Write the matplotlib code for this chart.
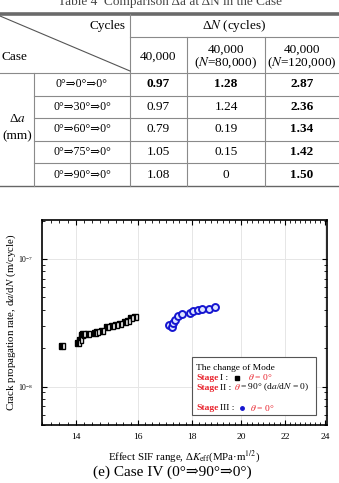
import matplotlib
matplotlib.use("Agg")
import matplotlib.pyplot as plt
from matplotlib.ticker import FixedLocator, FixedFormatter, NullFormatter, LogLocator
from matplotlib.patches import Rectangle

plt.rcParams["mathtext.fontset"] = "stix"

# ---------------- data ----------------
cases = ["0°⇒0°⇒0°", "0°⇒30°⇒0°", "0°⇒60°⇒0°", "0°⇒75°⇒0°", "0°⇒90°⇒0°"]
col_40k = ["0.97", "0.97", "0.79", "1.05", "1.08"]
col_80k = ["1.28", "1.24", "0.19", "0.15", "0"]
col_120k = ["2.87", "2.36", "1.34", "1.42", "1.50"]

stage1_dK = [13.58, 14.06, 14.10, 14.17, 14.21, 14.37, 14.57, 14.66, 14.80,
             14.96, 15.13, 15.26, 15.40, 15.55, 15.67, 15.77, 15.91]
stage1_rate = [2.09e-8, 2.19e-8, 2.33e-8, 2.53e-8, 2.57e-8, 2.59e-8, 2.62e-8,
               2.66e-8, 2.74e-8, 2.92e-8, 3.00e-8, 3.05e-8, 3.10e-8, 3.22e-8,
               3.28e-8, 3.43e-8, 3.52e-8]
stage3_dK = [17.11, 17.22, 17.28, 17.35, 17.47, 17.60, 17.90, 18.03, 18.22,
             18.39, 18.66, 18.89]
stage3_rate = [3.05e-8, 2.94e-8, 3.16e-8, 3.34e-8, 3.55e-8, 3.68e-8, 3.78e-8,
               3.89e-8, 4.00e-8, 4.07e-8, 4.07e-8, 4.18e-8]

xticks = [14, 16, 18, 20, 22, 24]

W, H = 339, 483
fig = plt.figure(figsize=(W / 100, H / 100), dpi=100)
SERIF = ["Liberation Serif", "DejaVu Serif"]

# ---------------- chart ----------------
L, R, T, B = 42, 327, 220, 425
ax = fig.add_axes([L / W, (H - B) / H, (R - L) / W, (B - T) / H])
ax.set_xscale("log")
ax.set_yscale("log")
ax.set_xlim(13.0, 24.1)
ax.set_ylim(5.0e-9, 2.02e-7)
ax.xaxis.set_major_locator(FixedLocator(xticks))
ax.xaxis.set_major_formatter(FixedFormatter([str(v) for v in xticks]))
minors = [13 + 0.25 * k for k in range(0, 45)]
ax.xaxis.set_minor_locator(FixedLocator(minors))
ax.xaxis.set_minor_formatter(NullFormatter())
ax.yaxis.set_major_locator(LogLocator(base=10))
ax.yaxis.set_minor_locator(LogLocator(base=10, subs=range(2, 10)))
ax.yaxis.set_minor_formatter(NullFormatter())
ax.grid(True, which="major", color="#e6e6e6", lw=0.7)
ax.set_axisbelow(True)
ax.tick_params(which="both", direction="in", top=True, right=True)
ax.tick_params(which="major", length=3.5, width=0.8, labelsize=6.8, pad=6)
ax.tick_params(which="minor", length=2, width=0.6)
for s in ax.spines.values():
    s.set_linewidth(1.2)
for lab in ax.get_xticklabels() + ax.get_yticklabels():
    lab.set_family(SERIF)
ax.tick_params(axis="y", labelsize=5.5)

ax.plot(stage1_dK, stage1_rate, ls="none", marker="s", ms=4.8, mec="black",
        mfc="black", fillstyle="left", markerfacecoloralt="white", mew=1.0)
ax.plot(stage3_dK, stage3_rate, ls="none", marker="o", ms=5.0, mec="#1515d0",
        mfc="#dde4ff", mew=1.4)

ax.set_ylabel("Crack propagation rate, d$\\it{a}$/d$\\it{N}$ (m/cycle)", family=SERIF,
              fontsize=7.8)
ax.yaxis.set_label_coords(-0.084, 0.5)
ax.set_xlabel("Effect SIF range, Δ$\\it{K}_{\\rm eff}$(MPa·m$^{1/2}$)", family=SERIF,
              fontsize=7.8)
ax.xaxis.set_label_coords(0.5, -0.112)

# overlay axes in pixel coords (drawn above the chart)
ov = fig.add_axes([0, 0, 1, 1])
ov.set_xlim(0, W)
ov.set_ylim(H, 0)
ov.axis("off")
ov.set_zorder(10)

# ---------------- table ----------------
gc = "#8a8a8a"
ov.text(W / 2, 2, "Table 4  Comparison Δa at ΔN in the Case", ha="center", va="center",
        fontsize=9.5, family=SERIF, color="#444")
ov.plot([0, W], [13.5, 13.5], color="#6a6a6a", lw=2.6, solid_capstyle="butt")
ov.plot([130, W], [37, 37], color=gc, lw=0.8)
ov.plot([0, W], [72.5, 72.5], color=gc, lw=0.8)
for yy in [95.5, 118, 140.5, 163]:
    ov.plot([34, W], [yy, yy], color=gc, lw=0.8)
ov.plot([0, W], [186, 186], color="#666", lw=1.0)
ov.plot([130, 130], [13.5, 186], color=gc, lw=0.8)
ov.plot([187, 187], [37, 186], color=gc, lw=0.8)
ov.plot([265, 265], [37, 186], color=gc, lw=0.8)
ov.plot([34, 34], [72.5, 186], color=gc, lw=0.8)
ov.plot([0, 130], [16, 71], color="#555", lw=0.8)

fs = 9.5
ov.text(125, 26, "Cycles", ha="right", va="center", fontsize=fs, family=SERIF)
ov.text(1, 57, "Case", ha="left", va="center", fontsize=fs, family=SERIF)
ov.text(234.5, 26, "Δ$\\it{N}$ (cycles)", ha="center", va="center", fontsize=fs, family=SERIF)
ov.text(158.5, 57, "40,000", ha="center", va="center", fontsize=fs, family=SERIF)
ov.text(226, 50, "40,000", ha="center", va="center", fontsize=fs, family=SERIF)
ov.text(226, 63.5, "($\\it{N}$=80,000)", ha="center", va="center", fontsize=fs, family=SERIF)
ov.text(302, 50, "40,000", ha="center", va="center", fontsize=fs, family=SERIF)
ov.text(302, 63.5, "($\\it{N}$=120,000)", ha="center", va="center", fontsize=fs, family=SERIF)
ov.text(17, 119, "Δ$\\it{a}$", ha="center", va="center", fontsize=fs, family=SERIF)
ov.text(17, 136, "(mm)", ha="center", va="center", fontsize=fs, family=SERIF)

row_c = [84, 106.8, 129.3, 151.8, 174.5]
for i, yc in enumerate(row_c):
    ov.text(82, yc, cases[i], ha="center", va="center", fontsize=8.5, family=SERIF)
    ov.text(158.5, yc, col_40k[i], ha="center", va="center", fontsize=fs, family=SERIF,
            fontweight="bold" if i == 0 else "normal")
    ov.text(226, yc, col_80k[i], ha="center", va="center", fontsize=fs, family=SERIF,
            fontweight="bold" if i == 0 else "normal")
    ov.text(302, yc, col_120k[i], ha="center", va="center", fontsize=fs, family=SERIF,
            fontweight="bold")

# legend box
ov.add_patch(Rectangle((192, 357), 124, 58, fill=True, fc="white", ec="#555", lw=0.8,
                       zorder=5))
lfs = 6.8
ov.text(196, 368, "The change of Mode", ha="left", va="center", fontsize=lfs,
        family=SERIF, zorder=6)
red = "#e8202a"
ys = [377.5, 387.5, 408]
nums = ["I :", "II :", "III :"]
for yv, n in zip(ys, nums):
    ov.text(196, yv, "Stage", ha="left", va="center", fontsize=lfs, family=SERIF,
            color=red, fontweight="bold", zorder=6)
    ov.text(220, yv, n, ha="left", va="center", fontsize=lfs, family=SERIF, zorder=6)
ov.plot([237], [377.5], marker="s", ms=2.5, color="black", ls="none", zorder=6)
ov.text(248, 377.5, "$\\theta$ = 0°", ha="left", va="center", fontsize=lfs,
        family=SERIF, color=red, zorder=6)
ov.text(234, 387.5, "$\\theta$", ha="left", va="center", fontsize=lfs,
        family=SERIF, color=red, zorder=6)
ov.text(240, 387.5, "= 90° (d$\\it{a}$/d$\\it{N}$ = 0)", ha="left", va="center",
        fontsize=lfs, family=SERIF, zorder=6)
ov.plot([242], [408], marker="o", ms=2.5, mec="#1515d0", mfc="#1515d0", ls="none", zorder=6)
ov.text(250, 408, "$\\theta$ = 0°", ha="left", va="center", fontsize=lfs,
        family=SERIF, color=red, zorder=6)

# caption
ov.text(172, 472, "(e) Case IV (0°⇒90°⇒0°)", ha="center", va="center", fontsize=11,
        family=SERIF)

fig.savefig("out.png", dpi=100)
